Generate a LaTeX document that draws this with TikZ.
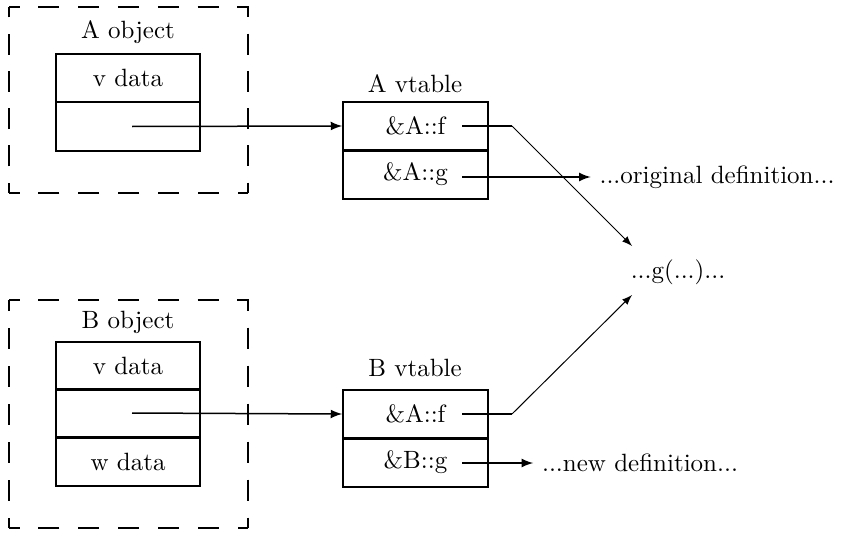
\documentclass[tikz,border=0pt]{standalone}
\usetikzlibrary{arrows}
\begin{document}
\begin{tikzpicture}[x=0.4pt,y=-0.4pt,
        slot/.style={draw,line width=0.8pt,minimum width=57.8pt,minimum height=19.2pt,inner sep=0pt},
        frame/.style={line width=0.8pt,dash pattern=on 4.2pt off #1 on 4.2pt off 0pt},
        ptr/.style={line width=0.6pt,-latex},
        thinptr/.style={line width=0.4pt,-latex}]
        \useasboundingbox (0,0) rectangle (857,539);

        % A object
        \coordinate (anw) at (9,7);
        \coordinate (ane) at (248,7);
        \coordinate (ase) at (248,193);
        \coordinate (asw) at (9,193);
        \foreach \p/\q/\g in {anw/ane/7.53pt,ane/ase/6.48pt,ase/asw/7.53pt,asw/anw/6.48pt}
            \draw[frame=\g] (\p) -- (\q);
        \node (aobj) at (128,32) {A object};
        \node[slot] (av) at (128,78) {v data};
        \node[slot] (aptr) at (128,126.5) {};

        % A vtable
        \node (avtab) at (415,84) {A vtable};
        \node[slot] (avf) at (415.5,126) {\&A::f};
        \node[slot] (avg) at (415.5,174.5) {\&A::g};

        % B object
        \coordinate (bnw) at (9,300);
        \coordinate (bne) at (248,300);
        \coordinate (bse) at (248,528);
        \coordinate (bsw) at (9,528);
        \foreach \p/\q/\g in {bnw/bne/7.53pt,bne/bse/6.8pt,bse/bsw/7.53pt,bsw/bnw/6.8pt}
            \draw[frame=\g] (\p) -- (\q);
        \node (bobj) at (128,322) {B object};
        \node[slot] (bv) at (128,365.5) {v data};
        \node[slot] (bptr) at (128,413) {};
        \node[slot] (bw) at (128,461.5) {w data};

        % B vtable
        \node (bvtab) at (415,368) {B vtable};
        \node[slot] (bvf) at (415.5,414) {\&A::f};
        \node[slot] (bvg) at (415.5,462.5) {\&B::g};

        % targets
        \node (orig) at (717,177) {...original definition...};
        \node (call) at (678,272) {...g(...)...};
        \node (new) at (640,463) {...new definition...};
        \coordinate (abend) at (512,126);
        \coordinate (bbend) at (512,414);
        \coordinate (callin) at (632,246);
        \coordinate (callin2) at (632,295);

        % pointers
        \draw[ptr] (132,126.5) -- (avf.west);
        \draw[ptr] (132,413) -- (bvf.west);
        \draw[line width=0.6pt] (462,126) -- (abend);
        \draw[thinptr] (abend) -- (callin);
        \draw[ptr] (462,177) -- (orig.west);
        \draw[line width=0.6pt] (462,414) -- (bbend);
        \draw[thinptr] (bbend) -- (callin2);
        \draw[ptr] (462,463) -- (new.west);
\end{tikzpicture}
\end{document}
